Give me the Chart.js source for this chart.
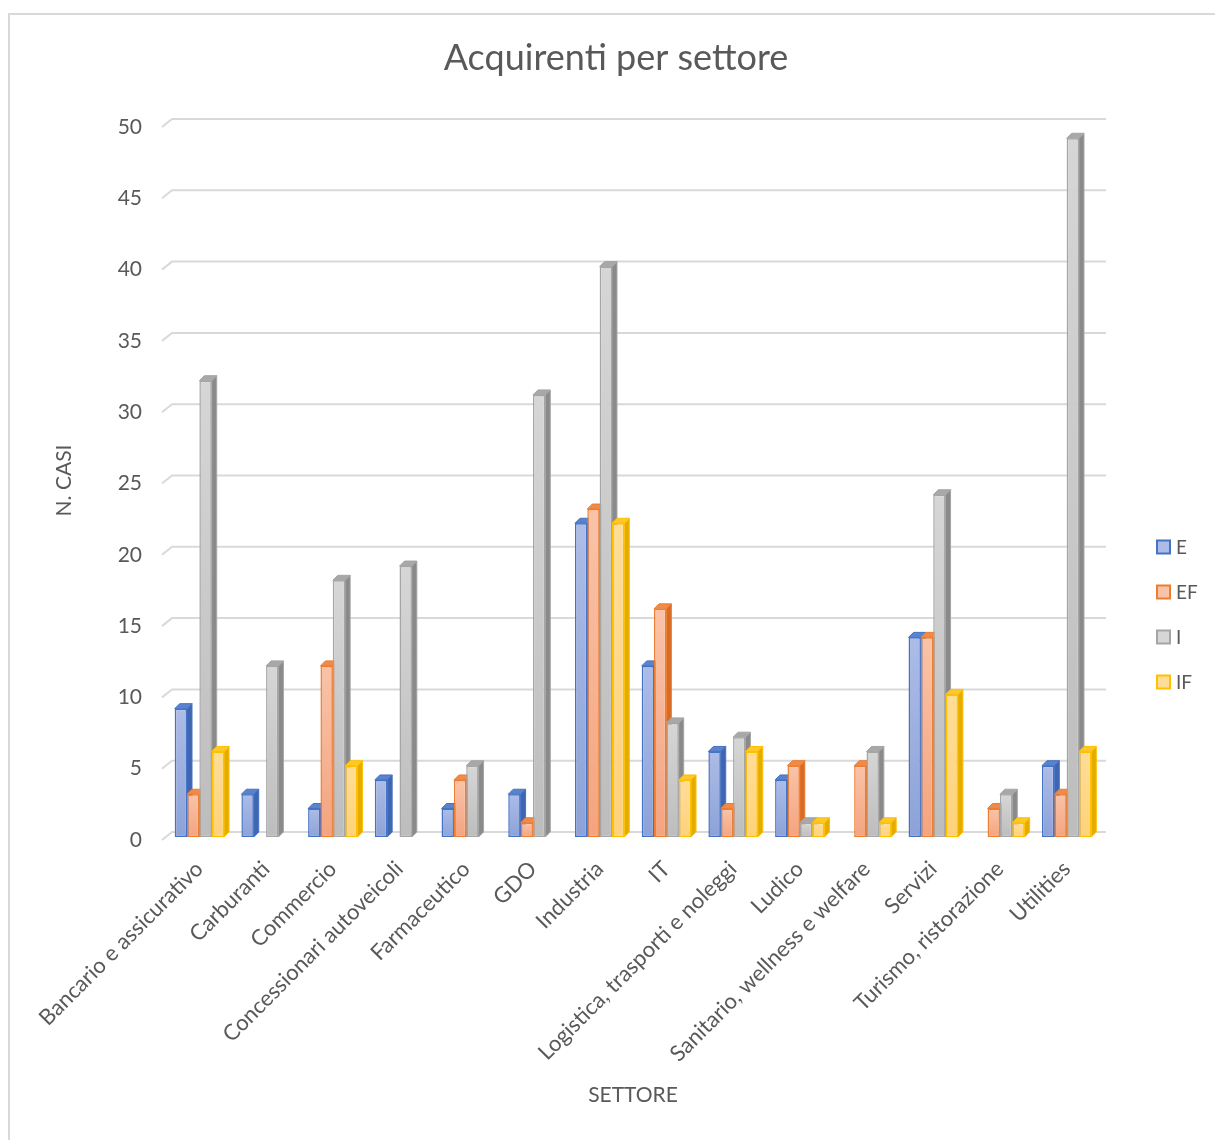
<!DOCTYPE html>
<html>
<head>
<meta charset="utf-8">
<title>Acquirenti per settore</title>
<script src="https://cdn.jsdelivr.net/npm/chart.js"></script>
<style>
  html, body { margin: 0; padding: 0; background: #fff; overflow: hidden; }
  canvas { display: block; }
</style>
</head>
<body>
<canvas id="acquirentiChart" width="1215" height="1140"></canvas>
<script>
// categorie e valori per serie
const settori = [
    'Bancario e assicurativo', 'Carburanti', 'Commercio', 'Concessionari autoveicoli',
    'Farmaceutico', 'GDO', 'Industria', 'IT', 'Logistica, trasporti e noleggi',
    'Ludico', 'Sanitario, wellness e welfare', 'Servizi', 'Turismo, ristorazione', 'Utilities'
];
const serieNomi = ['E', 'EF', 'I', 'IF'];
const valoriE  = [9, 3, 2, 4, 2, 3, 22, 12, 6, 4, 0, 14, 0, 5];
const valoriEF = [3, 0, 12, 0, 4, 1, 23, 16, 2, 5, 5, 14, 2, 3];
const valoriI  = [32, 12, 18, 19, 5, 31, 40, 8, 7, 1, 6, 24, 3, 49];
const valoriIF = [6, 0, 5, 0, 0, 0, 22, 4, 6, 1, 1, 10, 1, 6];
const yMax = 50;
const yStep = 5;

const FONT = "Lato, 'Open Sans', sans-serif";
const GREY_TEXT = '#595959';
const GRID = '#d9d9d9';
const DX = 5, DY = 5;   // profondita' delle barre 3D

const stili = [
    { border: '#4472c4', top: '#adbce7', bottom: '#8ca2d8', side: '#3e66b2', cap: '#5b83cc' },
    { border: '#ed7d31', top: '#f9c3a8', bottom: '#f4a47f', side: '#d96c25', cap: '#f08a48' },
    { border: '#a5a5a5', top: '#d6d6d6', bottom: '#bdbdbd', side: '#8a8a8a', cap: '#a8a8a8' },
    { border: '#ffc000', top: '#ffdd98', bottom: '#ffd27a', side: '#e5ac00', cap: '#ffc72a' }
];

function frontFill(s) {
    return (ctx) => {
        const y = ctx.chart.scales.y;
        if (ctx.type !== 'data' || !y) return s.bottom;
        const y0 = y.getPixelForValue(0);
        const y1 = y.getPixelForValue(ctx.raw || 0);
        if (!isFinite(y0) || !isFinite(y1) || y0 === y1) return s.bottom;
        const g = ctx.chart.ctx.createLinearGradient(0, y1, 0, y0);
        g.addColorStop(0, s.top);
        g.addColorStop(1, s.bottom);
        return g;
    };
}

const valori = [valoriE, valoriEF, valoriI, valoriIF];
const datasets = serieNomi.map((nome, i) => ({
    label: nome,
    data: valori[i],
    backgroundColor: frontFill(stili[i]),
    borderColor: stili[i].border,
    borderWidth: (ctx) => (ctx.raw > 0 ? 1.5 : 0),
    borderSkipped: false,
    categoryPercentage: 0.74,
    barPercentage: 1
}));

function poly(ctx, pts, fill, stroke) {
    ctx.beginPath();
    ctx.moveTo(pts[0][0], pts[0][1]);
    for (let k = 1; k < pts.length; k++) ctx.lineTo(pts[k][0], pts[k][1]);
    ctx.closePath();
    ctx.fillStyle = fill;
    ctx.fill();
    ctx.strokeStyle = stroke;
    ctx.lineWidth = 1;
    ctx.stroke();
}

const bar3d = {
    id: 'bar3d',
    beforeDraw(chart) {
        // cornice
        const ctx = chart.ctx;
        ctx.save();
        ctx.strokeStyle = GRID;
        ctx.lineWidth = 2;
        ctx.beginPath();
        ctx.moveTo(9, chart.height);
        ctx.lineTo(9, 14);
        ctx.lineTo(chart.width, 14);
        ctx.stroke();
        ctx.restore();
    },
    beforeDatasetsDraw(chart) {
        const ctx = chart.ctx;
        const { left, right } = chart.chartArea;
        const ys = chart.scales.y;
        ctx.save();
        // griglia sulla parete di fondo
        ctx.strokeStyle = GRID;
        ctx.lineWidth = 2;
        ys.ticks.forEach(t => {
            const py = ys.getPixelForValue(t.value);
            ctx.beginPath();
            ctx.moveTo(left - 4, py + 3);
            ctx.lineTo(left + 6, py - 5);
            ctx.lineTo(right + 6, py - 5);
            ctx.stroke();
        });
        // fianchi e coperchi delle barre
        chart.data.datasets.forEach((ds, di) => {
            const meta = chart.getDatasetMeta(di);
            const s = stili[di];
            meta.data.forEach((el, i) => {
                if (!(ds.data[i] > 0)) return;
                const L = el.x - el.width / 2, R = el.x + el.width / 2;
                const T = el.y, B = el.base;
                poly(ctx, [[R, T], [R + DX, T - DY], [R + DX, B - DY], [R, B]], s.side, s.border);
                poly(ctx, [[L, T], [L + DX, T - DY], [R + DX, T - DY], [R, T]], s.cap, s.border);
            });
        });
        ctx.restore();
    },
    afterDraw(chart) {
        const ctx = chart.ctx;
        ctx.save();
        // titolo
        ctx.fillStyle = GREY_TEXT;
        ctx.font = '36px ' + FONT;
        ctx.textAlign = 'center';
        ctx.textBaseline = 'middle';
        ctx.fillText('Acquirenti per settore', 616, 58);
        // legenda
        ctx.font = '19px ' + FONT;
        ctx.textAlign = 'left';
        chart.data.datasets.forEach((ds, i) => {
            const cy = 547 + i * 45;
            ctx.fillStyle = stili[i].top;
            ctx.fillRect(1157, cy - 6.5, 13, 13);
            ctx.strokeStyle = stili[i].border;
            ctx.lineWidth = 2;
            ctx.strokeRect(1157, cy - 6.5, 13, 13);
            ctx.fillStyle = GREY_TEXT;
            ctx.fillText(ds.label, 1176, cy + 1);
        });
        ctx.restore();
    }
};

new Chart(document.getElementById('acquirentiChart'), {
    type: 'bar',
    data: { labels: settori, datasets: datasets },
    plugins: [bar3d],
    options: {
        responsive: false,
        animation: false,
        layout: { padding: { left: 40, right: 115, top: 124, bottom: 0 } },
        plugins: {
            legend: { display: false },
            tooltip: { enabled: false },
            title: { display: false }
        },
        scales: {
            x: {
                grid: { display: false, drawTicks: false },
                border: { display: false },
                ticks: {
                    color: GREY_TEXT,
                    font: { family: FONT, size: 22 },
                    minRotation: 45,
                    maxRotation: 45,
                    autoSkip: false,
                    padding: 19
                },
                title: {
                    display: true,
                    text: 'SETTORE',
                    color: GREY_TEXT,
                    font: { family: FONT, size: 21 },
                    padding: { top: 0, bottom: 32 }
                },
                afterFit(scale) { scale.height = 303; }
            },
            y: {
                min: 0,
                max: yMax,
                grid: { display: false, drawTicks: false },
                border: { display: false },
                ticks: {
                    stepSize: yStep,
                    color: GREY_TEXT,
                    font: { family: FONT, size: 21 },
                    padding: 24,
                    labelOffset: 3
                },
                title: {
                    display: true,
                    text: 'N. CASI',
                    color: GREY_TEXT,
                    font: { family: FONT, size: 21 },
                    padding: { top: 12, bottom: 0 }
                },
                afterFit(scale) { scale.width = 126; }
            }
        }
    }
});
</script>
</body>
</html>
